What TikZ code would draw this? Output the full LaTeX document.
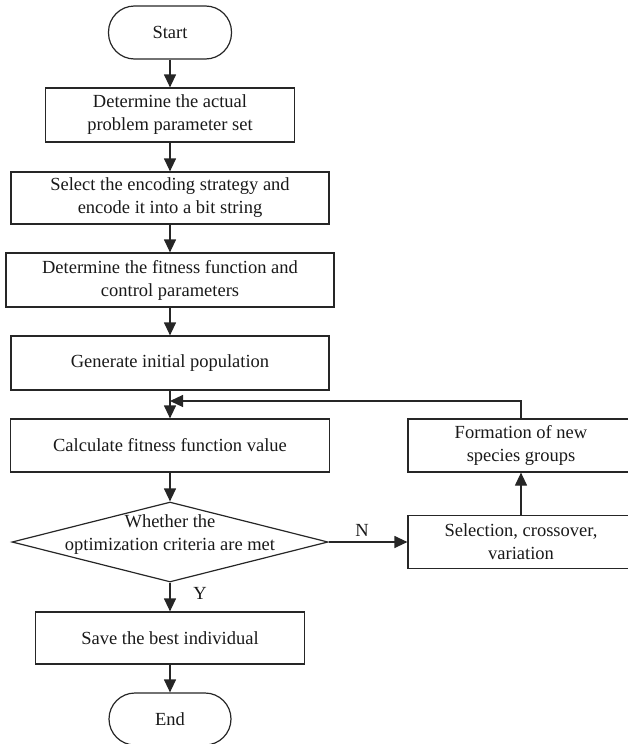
\documentclass[tikz,border=0pt]{standalone}
\usepackage{fontspec}
\setmainfont{Liberation Serif}
\usetikzlibrary{arrows.meta,shapes.geometric}
\begin{document}
\begin{tikzpicture}[x=1pt,y=-1pt,
  every node/.style={font=\fontsize{18.5}{23}\selectfont, text=black!90},
  boxnode/.style={draw=black!85, line width=1.2pt, rectangle, inner sep=0pt, align=center},
  termnode/.style={draw=black!85, line width=1.2pt, rectangle, rounded corners=26pt, inner sep=0pt, align=center},
  decnode/.style={draw=black!85, line width=1.2pt, diamond, inner sep=0pt},
  arr/.style={draw=black!85, line width=1.2pt, -{Triangle[length=13pt,width=12pt]}},
  lbl/.style={inner sep=0pt}
]
\useasboundingbox (0,0) rectangle (627,744);

\node[termnode, minimum width=123pt, minimum height=53pt] (start) at (170,32.5) {Start};
\node[boxnode, minimum width=249pt, minimum height=54pt] (b1) at (170,115) {Determine the actual\\problem parameter set};
\node[boxnode, minimum width=318pt, minimum height=52pt] (b2) at (170,198) {Select the encoding strategy and\\encode it into a bit string};
\node[boxnode, minimum width=328pt, minimum height=54pt] (b3) at (170,280) {Determine the fitness function and\\control parameters};
\node[boxnode, minimum width=318pt, minimum height=54pt] (b4) at (170,363) {Generate initial population};
\node[boxnode, minimum width=319pt, minimum height=53pt] (calc) at (170,445.5) {Calculate fitness function value};
\node[decnode, minimum width=316pt, minimum height=80pt] (dec) at (170,542) {};
\node[lbl, align=center] (dectext) at (170,535) {Whether the\\optimization criteria are met};
\node[boxnode, minimum width=269pt, minimum height=52pt] (save) at (170,638) {Save the best individual};
\node[termnode, minimum width=122pt, minimum height=52pt] (end) at (170,719) {End};

\node[boxnode, minimum width=226pt, minimum height=53pt] (sel) at (521,542) {Selection, crossover,\\variation};
\node[boxnode, minimum width=226pt, minimum height=53pt] (form) at (521,445.5) {Formation of new\\species groups};

\coordinate (loopend) at (170,401);

\draw[arr] (start.south) -- (b1.north);
\draw[arr] (b1.south) -- (b2.north);
\draw[arr] (b2.south) -- (b3.north);
\draw[arr] (b3.south) -- (b4.north);
\draw[arr] (b4.south) -- (calc.north);
\draw[arr] (calc.south) -- (dec.north);
\draw[arr] (dec.south) -- (save.north);
\draw[arr] (save.south) -- (end.north);
\draw[arr] (dec.east) -- (sel.west);
\draw[arr] (sel.north) -- (form.south);
\draw[arr] (form.north) |- (loopend);

\node[lbl] (nlab) at (362,530) {N};
\node[lbl] (ylab) at (200,593) {Y};
\end{tikzpicture}
\end{document}
